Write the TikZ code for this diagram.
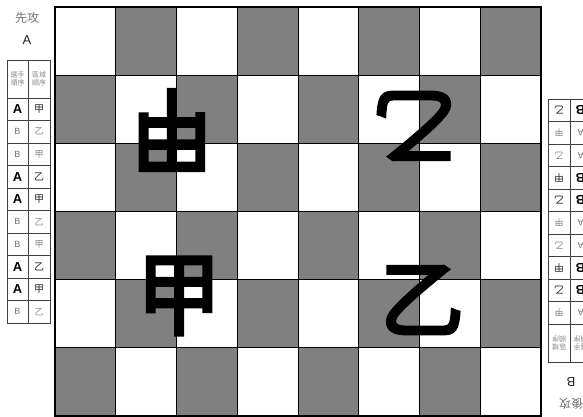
\documentclass[tikz,border=0pt]{standalone}
\usepackage{fontspec}
\setmainfont{Liberation Sans}
\newfontfamily\cjk{Noto Sans CJK TC}
\newfontfamily\cjkbig[FakeBold=4]{Noto Sans CJK TC}
\definecolor{boardgray}{RGB}{128,128,128}
\definecolor{txtgray}{RGB}{115,115,115}
\definecolor{lightgray}{RGB}{135,135,135}
\newcommand\sidepanel[4]{%
  \node[titletext] (#1title) at (27,18) {#2};
  \node[lettertext] (#1letter) at (27,40) {#3};
  \draw[tableline] (7,60) rectangle (50,323);
  \draw[tableline] (28,60) -- (28,323);
  \draw[tableline] (7,98) -- (50,98);
  \node[headtext] (#1ha) at (17.5,79) {選手\\順序};
  \node[headtext] (#1hb) at (39,79) {區域\\順序};
  \foreach \s/\p/\z [count=\i] in {#4} {
    \draw[tableline] (7,{98+22.5*\i}) -- (50,{98+22.5*\i});
    \node[\s lat] (#1p\i) at (17.5,{86.75+22.5*\i}) {\p};
    \node[\s cjk] (#1z\i) at (39,{86.75+22.5*\i}) {\z};
  }%
}
\begin{document}
\begin{tikzpicture}[x=1pt,y=-1pt,
  gridline/.style={draw=black, line width=0.9pt},
  border/.style={draw=black, line width=1.5pt},
  tableline/.style={draw=black!75, line width=0.6pt},
  titletext/.style={font=\cjk\fontsize{12}{12}\selectfont, text=txtgray, inner sep=0pt},
  lettertext/.style={font=\fontsize{13}{13}\selectfont, text=black!85, inner sep=0pt},
  headtext/.style={font=\cjk\fontsize{7}{8.5}\selectfont, text=lightgray, align=center, inner sep=0pt},
  emlat/.style={font=\bfseries\fontsize{13}{13}\selectfont, text=black, inner sep=0pt},
  pllat/.style={font=\fontsize{9}{9}\selectfont, text=txtgray, inner sep=0pt},
  emcjk/.style={font=\cjk\fontsize{10}{10}\selectfont, text=black!85, inner sep=0pt},
  plcjk/.style={font=\cjk\fontsize{9}{9}\selectfont, text=lightgray, inner sep=0pt},
  boardglyph/.style={font=\cjkbig\fontsize{84}{84}\selectfont, text=black, inner sep=0pt}
]
\useasboundingbox[fill=white] (0,0) rectangle (583,417);
% board squares
\foreach \r in {0,...,5} {
  \foreach \c in {0,...,7} {
    \pgfmathtruncatemacro\k{\r+\c}
    \ifodd\k
      \fill[boardgray] ({55+60.75*\c},{7+68.17*\r}) rectangle ++(60.75,68.17);
    \fi
  }
}
\foreach \c in {1,...,7} \draw[gridline] ({55+60.75*\c},7) -- ({55+60.75*\c},416);
\foreach \r in {1,...,5} \draw[gridline] (55,{7+68.17*\r}) -- (541,{7+68.17*\r});
\draw[border] (55,7) rectangle (541,416);
% board characters
\node[boardglyph, rotate=180, yscale=1.12] (ga) at (172,130) {甲};
\node[boardglyph, yscale=1.08] (gb) at (179,296) {甲};
\node[boardglyph, rotate=180] (gc) at (415,126) {乙};
\node[boardglyph] (gd) at (422,300) {乙};
% left panel
\sidepanel{L}{先攻}{A}{em/A/甲, pl/B/乙, pl/B/甲, em/A/乙, em/A/甲, pl/B/乙, pl/B/甲, em/A/乙, em/A/甲, pl/B/乙}
% right panel (rotated)
\begin{scope}[rotate around={180:(299,211)}, every node/.append style={transform shape}]
\sidepanel{R}{後攻}{B}{pl/A/甲, em/B/乙, em/B/甲, pl/A/乙, pl/A/甲, em/B/乙, em/B/甲, pl/A/乙, pl/A/甲, em/B/乙}
\end{scope}
\end{tikzpicture}
\end{document}
